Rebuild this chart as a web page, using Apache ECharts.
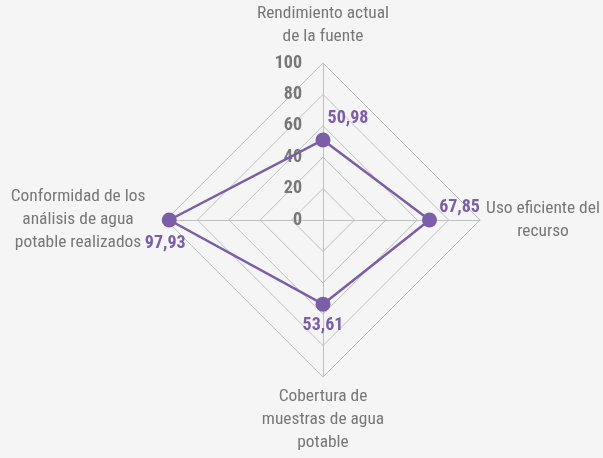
<!DOCTYPE html>
<html>
<head>
<meta charset="utf-8">
<script src="https://cdn.jsdelivr.net/npm/echarts@6/dist/echarts.min.js"></script>
<style>
  html, body { margin: 0; padding: 0; background: #f5f5f5; }
  #chart { width: 603px; height: 458px; }
</style>
</head>
<body>
<div id="chart"></div>
<script>
// Indicators of the water-service radar, in ECharts order (counter-clockwise from the top)
var indicatorNames = [
  'Rendimiento actual\nde la fuente',
  'Conformidad de los\nanálisis de agua\npotable realizados',
  'Cobertura de\nmuestras de agua\npotable',
  'Uso eficiente del\nrecurso'
];
var indicatorMax = [100, 100, 100, 100];
var scoreValues = [50.98, 97.93, 53.61, 67.85];
var scaleTicks = [0, 20, 40, 60, 80, 100];

var FONT = '"Liberation Sans Narrow", "Roboto Condensed", "DejaVu Sans Condensed", "Liberation Sans", sans-serif';
var PURPLE = '#7b5ea7';
var GRAY_TEXT = '#777777';
var GRID = '#c0c0c0';

var CX = 323, CY = 220, R = 157;

// per-indicator name styling (rich keys)
var nameKeys = ['top', 'left', 'bottom', 'right'];
function nameFormatter(name) {
  var idx = indicatorNames.indexOf(name);
  var key = nameKeys[idx];
  var lines = name.split('\n').map(function (l) { return '{' + key + '|' + l + '}'; });
  if (key === 'top') lines.push('{sp| }');
  return lines.join('\n');
}
function nameStyle(w) {
  return { fontFamily: FONT, fontSize: 17.4, color: GRAY_TEXT, lineHeight: 23, width: w, align: 'center' };
}

// value label offsets around each vertex, as padding on a centered box
var labelPads = [[0, 0, 42, 50], [46, 8, 0, 0], [42, 0, 0, 0], [0, 0, 26, 60]];
function labelStyle(p) {
  return { fontFamily: FONT, fontSize: 18, fontWeight: 'bold', color: PURPLE, padding: p };
}

var option = {
  backgroundColor: '#f5f5f5',
  animation: false,
  grid: { left: CX, top: CY - R, width: 10, height: R },
  xAxis: { type: 'value', show: false },
  yAxis: {
    type: 'value', min: 0, max: 100, interval: 20,
    axisLine: { show: false }, axisTick: { show: false }, splitLine: { show: false },
    axisLabel: {
      margin: 21, color: GRAY_TEXT, fontFamily: FONT, fontSize: 18, fontWeight: 'bold',
      formatter: function (v) { return scaleTicks.indexOf(v) >= 0 ? String(v) : ''; }
    }
  },
  radar: {
    center: [CX, CY],
    radius: R,
    startAngle: 90,
    shape: 'polygon',
    splitNumber: 5,
    nameGap: 8,
    indicator: indicatorNames.map(function (n, i) { return { name: n, max: indicatorMax[i], min: 0 }; }),
    axisName: {
      formatter: nameFormatter,
      fontFamily: FONT, fontSize: 17.4, color: GRAY_TEXT, lineHeight: 23,
      rich: {
        top: nameStyle(140),
        right: nameStyle(110),
        bottom: nameStyle(140),
        left: nameStyle(160),
        sp: { fontSize: 6, lineHeight: 7 }
      }
    },
    axisLine: { lineStyle: { color: GRID, width: 1 } },
    splitLine: { lineStyle: { color: GRID, width: 1 } },
    splitArea: { show: false },
    axisTick: { show: false },
    axisLabel: { show: false }
  },
  series: [{
    type: 'radar',
    symbol: 'circle',
    symbolSize: 15,
    lineStyle: { color: PURPLE, width: 2.5 },
    itemStyle: { color: PURPLE },
    label: {
      show: true,
      position: 'inside',
      formatter: function (p) {
        var d = p.dimensionIndex != null ? p.dimensionIndex : scoreValues.indexOf(p.value);
        return '{d' + d + '|' + p.value.toFixed(2).replace('.', ',') + '}';
      },
      rich: {
        d0: labelStyle(labelPads[0]),
        d1: labelStyle(labelPads[1]),
        d2: labelStyle(labelPads[2]),
        d3: labelStyle(labelPads[3])
      }
    },
    data: [{ value: scoreValues }]
  }]
};

var chart = echarts.init(document.getElementById('chart'), null, { renderer: 'canvas' });
chart.setOption(option);
</script>
</body>
</html>
